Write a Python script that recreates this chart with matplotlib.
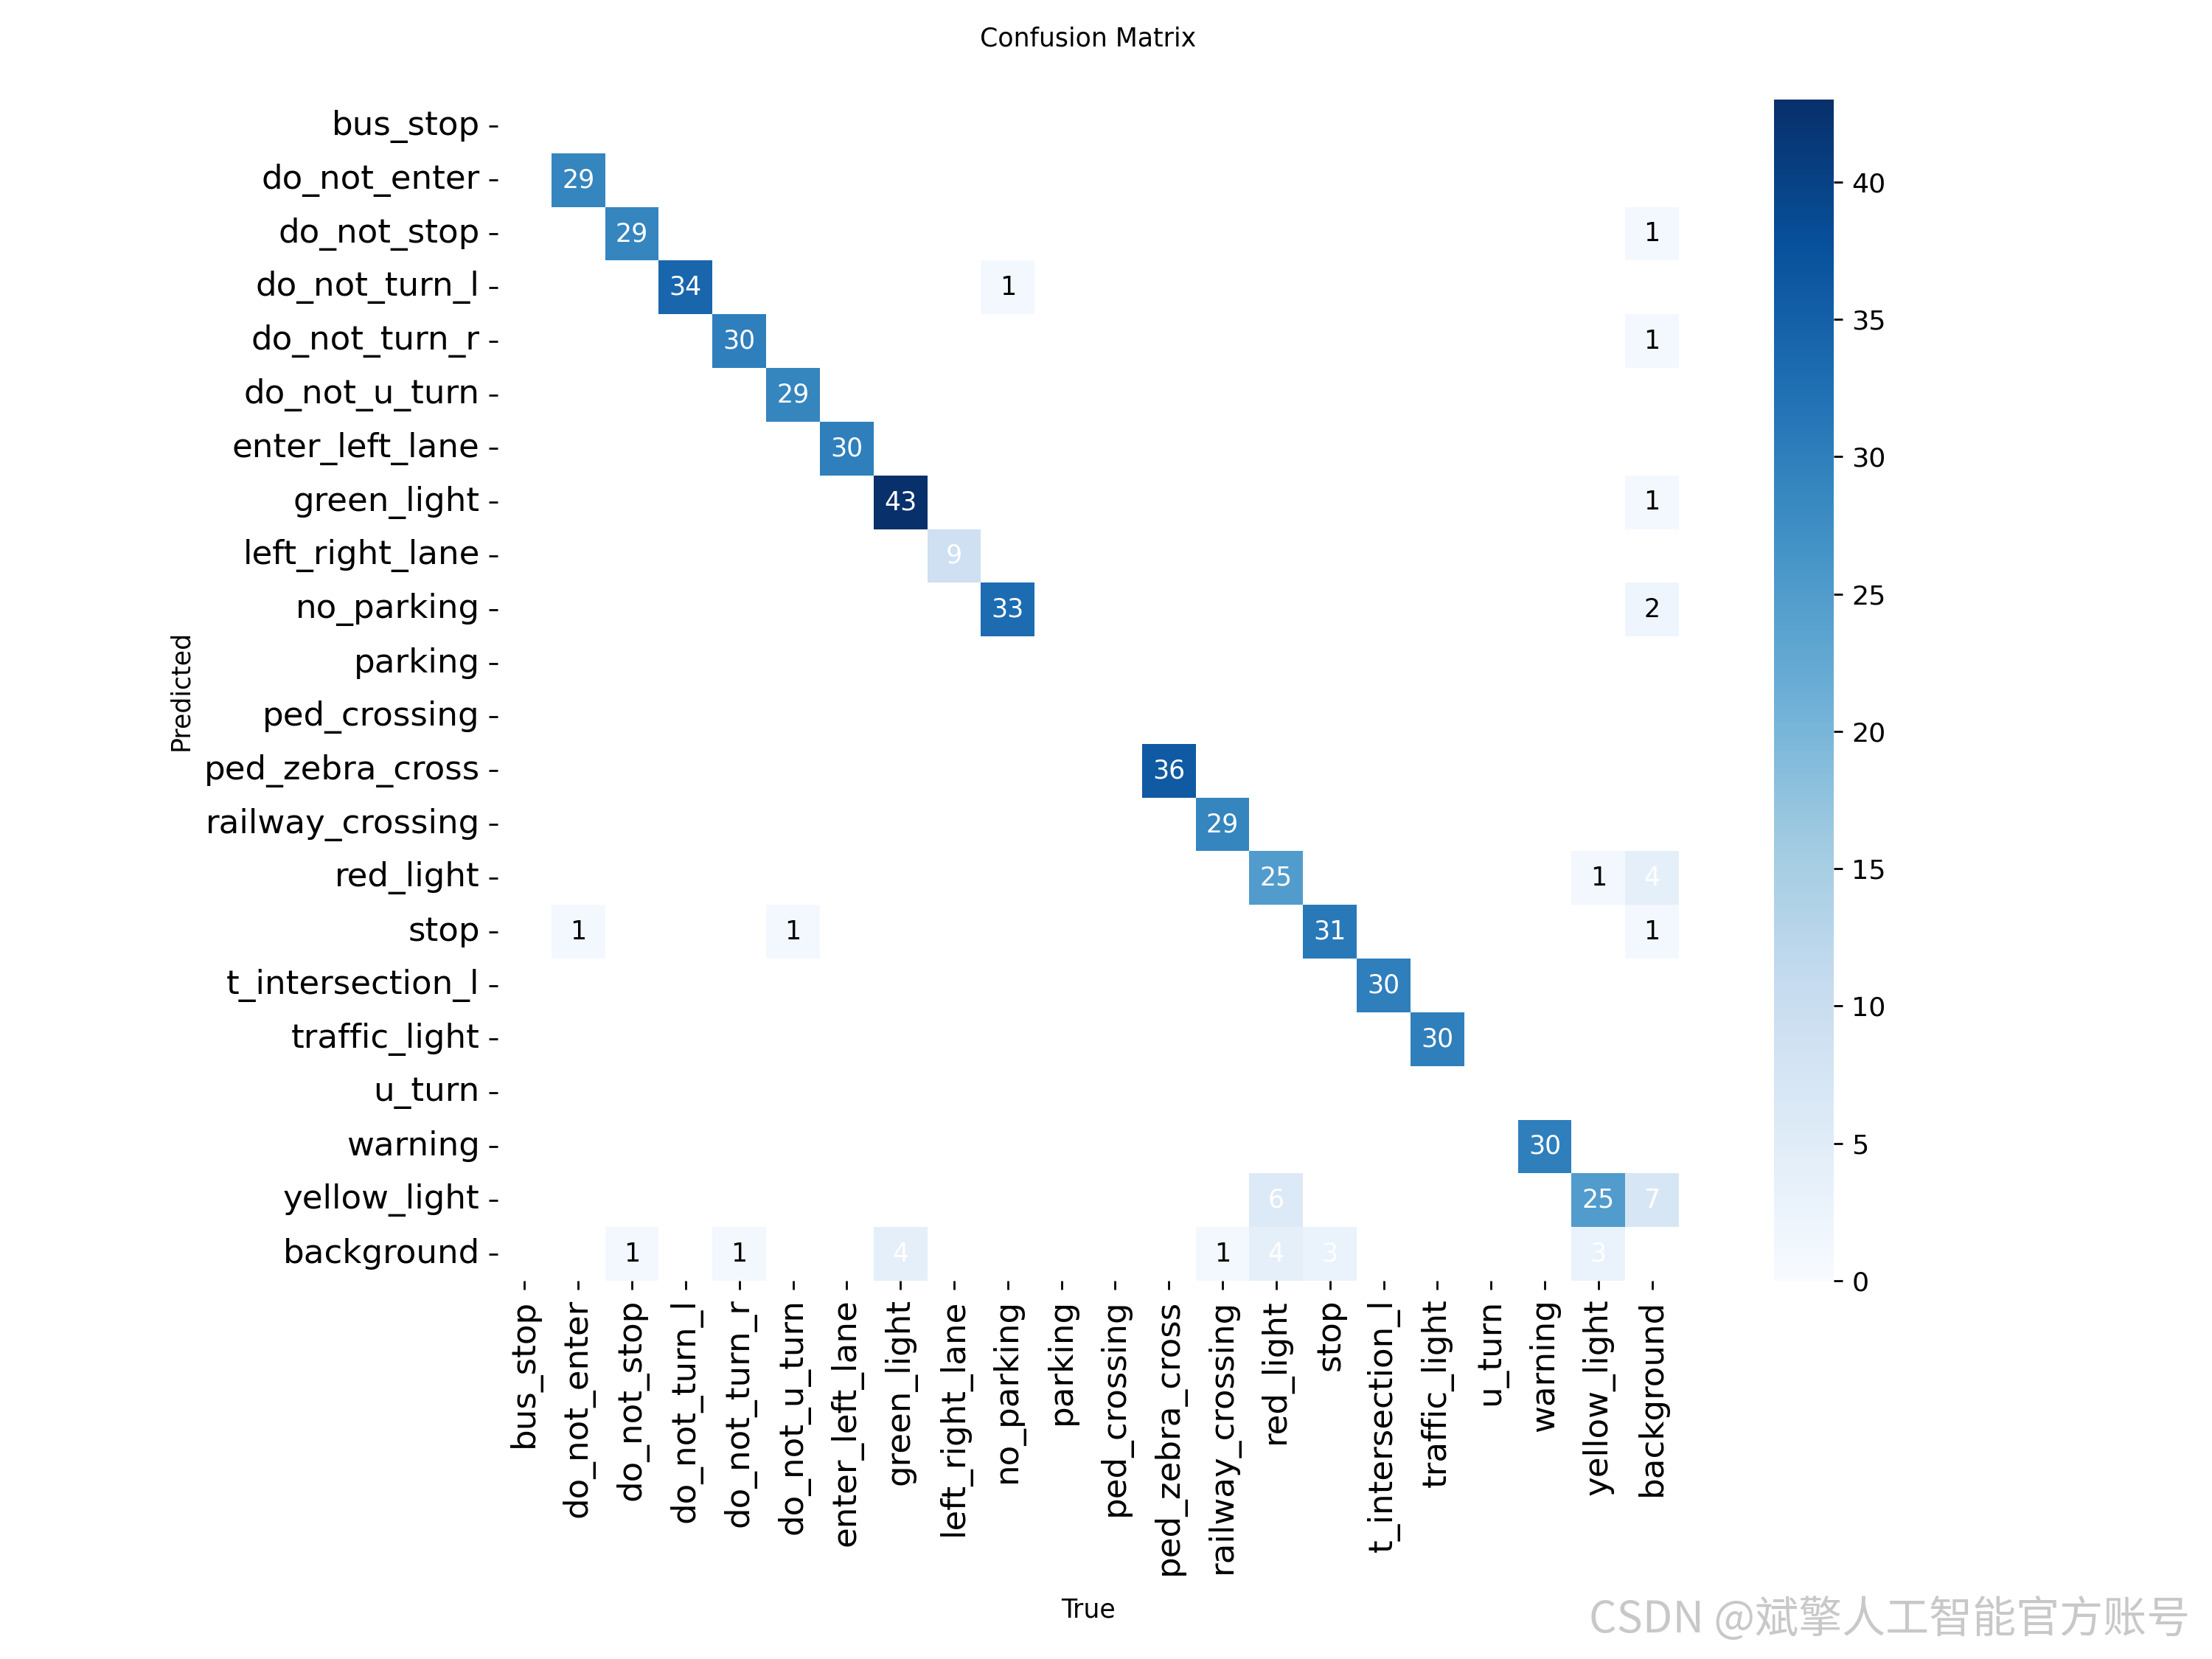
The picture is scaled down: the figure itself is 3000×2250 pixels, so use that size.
import numpy as np
import seaborn as sns
from matplotlib import pyplot as plt

names = ['bus_stop', 'do_not_enter', 'do_not_stop', 'do_not_turn_l', 'do_not_turn_r',
         'do_not_u_turn', 'enter_left_lane', 'green_light', 'left_right_lane', 'no_parking',
         'parking', 'ped_crossing', 'ped_zebra_cross', 'railway_crossing', 'red_light',
         'stop', 't_intersection_l', 'traffic_light', 'u_turn', 'warning', 'yellow_light',
         'background']
idx = {n: i for i, n in enumerate(names)}

# (predicted, true): count
cells = {
    ('do_not_enter', 'do_not_enter'): 29,
    ('do_not_stop', 'do_not_stop'): 29, ('do_not_stop', 'background'): 1,
    ('do_not_turn_l', 'do_not_turn_l'): 34, ('do_not_turn_l', 'no_parking'): 1,
    ('do_not_turn_r', 'do_not_turn_r'): 30, ('do_not_turn_r', 'background'): 1,
    ('do_not_u_turn', 'do_not_u_turn'): 29,
    ('enter_left_lane', 'enter_left_lane'): 30,
    ('green_light', 'green_light'): 43, ('green_light', 'background'): 1,
    ('left_right_lane', 'left_right_lane'): 9,
    ('no_parking', 'no_parking'): 33, ('no_parking', 'background'): 2,
    ('ped_zebra_cross', 'ped_zebra_cross'): 36,
    ('railway_crossing', 'railway_crossing'): 29,
    ('red_light', 'red_light'): 25, ('red_light', 'yellow_light'): 1, ('red_light', 'background'): 4,
    ('stop', 'do_not_enter'): 1, ('stop', 'do_not_u_turn'): 1, ('stop', 'stop'): 31, ('stop', 'background'): 1,
    ('t_intersection_l', 't_intersection_l'): 30,
    ('traffic_light', 'traffic_light'): 30,
    ('warning', 'warning'): 30,
    ('yellow_light', 'red_light'): 6, ('yellow_light', 'yellow_light'): 25, ('yellow_light', 'background'): 7,
    ('background', 'do_not_stop'): 1, ('background', 'do_not_turn_r'): 1, ('background', 'green_light'): 4,
    ('background', 'railway_crossing'): 1, ('background', 'red_light'): 4, ('background', 'stop'): 3,
    ('background', 'yellow_light'): 3,
}

n = len(names)
matrix = np.full((n, n), np.nan)
for (p, t), v in cells.items():
    matrix[idx[p], idx[t]] = v

fig = plt.figure(figsize=(12, 9), dpi=250)
ax = fig.add_axes([0.192, 0.228, 0.6, 0.712])
cax = fig.add_axes([0.802, 0.228, 0.027, 0.712])
sns.heatmap(matrix, ax=ax, cbar_ax=cax, annot=True, annot_kws={'size': 10}, cmap='Blues',
            fmt='.0f', square=True, vmin=0.0,
            xticklabels=names, yticklabels=names).set_facecolor((1, 1, 1))
# annotation colours as in the original render: dark text only for 1-2
for t in ax.texts:
    t.set_color('black' if float(t.get_text()) <= 2 else 'white')
ax.tick_params(labelsize=13)
cax.tick_params(labelsize=10.5)
ax.set_xlabel('True', fontsize=10, labelpad=9)
ax.set_ylabel('Predicted', fontsize=10)
ax.set_title('Confusion Matrix', fontsize=10, pad=21)
fig.text(0.99, 0.01, 'CSDN @斌擎人工智能官方账号', ha='right', va='bottom', fontsize=17,
         color='#c8c8c8', family=['Noto Sans CJK SC', 'DejaVu Sans'])
fig.savefig('out.png')
